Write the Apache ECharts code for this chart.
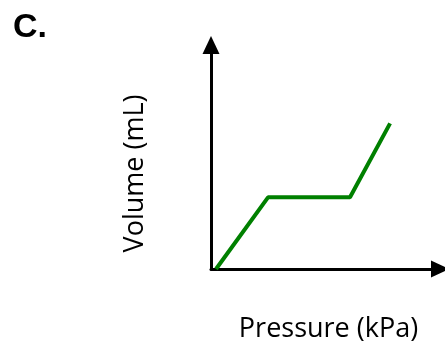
<!DOCTYPE html>
<html>
<head>
<meta charset="utf-8">
<script src="https://cdn.jsdelivr.net/npm/echarts@6/dist/echarts.min.js"></script>
<style>html,body{margin:0;padding:0;background:#fff}#c{width:445px;height:351px}</style>
</head>
<body>
<div id="c"></div>
<script>
const pressure = [2.2, 24.9, 60.7, 78.2];
const volume = [0, 32, 32, 65];
const panelLabel = 'C.';
const xLabel = 'Pressure (kPa)';
const yLabel = 'Volume (mL)';

const chart = echarts.init(document.getElementById('c'), null, {renderer: 'canvas'});
const axisLine = {
  show: true,
  symbol: ['none', 'triangle'],
  symbolSize: [17, 18],
  lineStyle: {color: '#000', width: 3}
};
chart.setOption({
  animation: false,
  backgroundColor: '#fff',
  title: {
    text: panelLabel, left: 8, top: 6,
    textStyle: {fontFamily: 'Liberation Sans', fontWeight: 'bold', fontSize: 34, color: '#000'}
  },
  grid: {left: 211, right: 5, top: 45, bottom: 82},
  xAxis: {
    type: 'value', min: 0, max: 100,
    name: xLabel, nameLocation: 'middle', nameGap: 47,
    nameTextStyle: {fontFamily: 'Open Sans', fontSize: 27, color: '#000', padding: [0, 0, 0, 6]},
    axisLine: axisLine, axisTick: {show: false}, axisLabel: {show: false}, splitLine: {show: false}
  },
  yAxis: {
    type: 'value', min: 0, max: 100,
    name: yLabel, nameLocation: 'middle', nameGap: 62,
    nameTextStyle: {fontFamily: 'Open Sans', fontSize: 27, color: '#000', padding: [0, 33, 0, 0]},
    axisLine: axisLine, axisTick: {show: false}, axisLabel: {show: false}, splitLine: {show: false}
  },
  series: [{
    type: 'line',
    data: pressure.map((p, i) => [p, volume[i]]),
    symbol: 'none',
    lineStyle: {color: '#008000', width: 4},
    clip: false
  }]
});
</script>
</body>
</html>
